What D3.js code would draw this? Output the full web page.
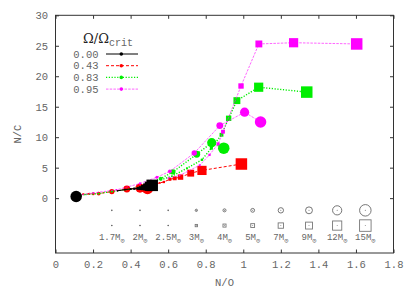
<!DOCTYPE html>
<html><head><meta charset="utf-8">
<script src="https://cdn.jsdelivr.net/npm/d3@7"></script>
<style>body{margin:0;background:#fff}svg{display:block}</style>
</head><body><svg id="c" width="411" height="291"></svg>
<script>
// ---- data ----
const masses = [1.7, 2, 2.5, 3, 4, 5, 7, 9, 12, 15];
const massLabels = ["1.7", "2", "2.5", "3", "4", "5", "7", "9", "12", "15"];
const rotationLabels = ["0.00", "0.43", "0.83", "0.95"];
const xTicks = [0, 0.2, 0.4, 0.6, 0.8, 1, 1.2, 1.4, 1.6, 1.8];
const yTicks = [0, 5, 10, 15, 20, 25, 30];

// Omega/Omega_crit = 0.00
const circ000NO = [0.11, 0.11, 0.11, 0.11, 0.11, 0.11, 0.11, 0.11, 0.11, 0.11];
const circ000NC = [0.27, 0.27, 0.27, 0.27, 0.27, 0.27, 0.27, 0.27, 0.27, 0.27];
const sq000NO = [0.33, 0.37, 0.40, 0.42, 0.44, 0.455, 0.47, 0.485, 0.50, 0.515];
const sq000NC = [1.2, 1.4, 1.5, 1.55, 1.6, 1.65, 1.75, 1.85, 1.95, 2.1];
// 0.43
const circ043NO = [0.115, 0.13, 0.147, 0.18, 0.20, 0.23, 0.30, 0.38, 0.45, 0.49];
const circ043NC = [0.35, 0.5, 0.65, 0.7, 0.72, 0.75, 1.08, 1.5, 1.65, 1.6];
const sq043NO = [0.51, 0.53, 0.555, 0.577, 0.609, 0.635, 0.666, 0.72, 0.78, 0.99];
const sq043NC = [2.1, 2.3, 2.5, 2.65, 3.1, 3.25, 3.45, 4.1, 4.55, 5.6];
// 0.83
const circ083NO = [0.12, 0.16, 0.23, 0.30, 0.45, 0.56, 0.625, 0.752, 0.832, 0.896];
const circ083NC = [0.4, 0.6, 0.75, 1.1, 1.7, 3.2, 4.3, 7.2, 9.1, 8.2];
const sq083NO = [0.56, 0.62, 0.70, 0.78, 0.83, 0.884, 0.922, 0.966, 1.082, 1.338];
const sq083NC = [3.0, 3.6, 4.9, 6.3, 8.2, 10.4, 13.1, 16.0, 18.2, 17.4];
// 0.95
const circ095NO = [0.12, 0.2, 0.325, 0.45, 0.54, 0.609, 0.739, 0.875, 1.007, 1.092];
const circ095NC = [0.45, 0.85, 1.36, 2.4, 3.44, 4.4, 7.4, 11.9, 14.1, 12.5];
const sq095NO = [0.60, 0.66, 0.768, 0.82, 0.866, 0.892, 0.988, 1.083, 1.268, 1.604];
const sq095NC = [3.3, 3.7, 5.4, 7.1, 8.9, 10.9, 18.4, 25.3, 25.5, 25.3];

// ---- styles ----
const colors = ["#000000", "#ff0000", "#00ee00", "#ff00ff"];
const dashes = [null, "3,2", "1.2,1.6", "2.5,1.2"];
const widths = [1, 1, 1.4, 1];
const opac = [1, 1, 1, 0.6];

const series = [
  {cx: circ000NO, cy: circ000NC, sx: sq000NO, sy: sq000NC},
  {cx: circ043NO, cy: circ043NC, sx: sq043NO, sy: sq043NC},
  {cx: circ083NO, cy: circ083NC, sx: sq083NO, sy: sq083NC},
  {cx: circ095NO, cy: circ095NC, sx: sq095NO, sy: sq095NC}
];

const svg = d3.select("#c");
const L = 55.5, R = 393.5, T = 15.3, B = 253;
const x = d3.scaleLinear().domain([0, 1.8]).range([L, R]);
const y = d3.scaleLinear().domain([-9, 30]).range([B, T]);
const size = d3.scaleLinear().domain([0, 15]).range([0, 11.5]);

const mono = "'Liberation Mono', 'DejaVu Sans Mono', monospace";
const txtCol = "#666";

function styleAxis(g) {
  g.select(".domain").remove();
  g.selectAll(".tick line").attr("stroke", "#333").attr("stroke-width", 1);
  g.selectAll("text").attr("font-family", mono).attr("font-size", 10.5).attr("fill", txtCol);
}
svg.append("g").attr("transform", `translate(0,${B})`)
  .call(d3.axisBottom(x).tickValues(xTicks).tickSize(-3.5).tickPadding(8).tickFormat(d => d3.format("")(+d.toFixed(1))))
  .call(styleAxis);
svg.append("g").attr("transform", `translate(0,${T})`)
  .call(d3.axisTop(x).tickValues(xTicks).tickSize(-3.5).tickFormat(""))
  .call(styleAxis);
svg.append("g").attr("transform", `translate(${L},0)`)
  .call(d3.axisLeft(y).tickValues(yTicks).tickSize(-3.5).tickPadding(7.5))
  .call(styleAxis);
svg.append("g").attr("transform", `translate(${R},0)`)
  .call(d3.axisRight(y).tickValues(yTicks).tickSize(-3.5).tickFormat(""))
  .call(styleAxis);

svg.append("rect").attr("x", L).attr("y", T).attr("width", R - L).attr("height", B - T)
  .attr("fill", "none").attr("stroke", "#333").attr("stroke-width", 1);

svg.append("text").attr("x", (L + R) / 2).attr("y", 286).attr("text-anchor", "middle")
  .attr("font-family", mono).attr("font-size", 10.5).attr("fill", txtCol).text("N/O");
svg.append("text").attr("transform", `translate(21,${(T + B) / 2}) rotate(-90)`).attr("text-anchor", "middle")
  .attr("font-family", mono).attr("font-size", 10.5).attr("fill", txtCol).text("N/C");

const line = d3.line().x(d => x(d[0])).y(d => y(d[1]));
const plot = svg.append("g");
const order = [1, 2, 3, 0];
order.forEach(si => {
  const s = series[si];
  const g = plot.append("g");
  const cPts = s.cx.map((v, i) => [v, s.cy[i], masses[i]]);
  const sPts = s.sx.map((v, i) => [v, s.sy[i], masses[i]]);
  [cPts, sPts].forEach(pts => {
    g.append("path").attr("d", line(pts)).attr("fill", "none")
      .attr("stroke", colors[si]).attr("stroke-width", widths[si]).attr("stroke-opacity", opac[si])
      .attr("stroke-dasharray", dashes[si]);
  });
  g.selectAll("circle.m").data(cPts).join("circle")
    .attr("cx", d => x(d[0])).attr("cy", d => y(d[1])).attr("r", d => size(d[2]) / 2)
    .attr("fill", colors[si]);
  g.selectAll("rect.m").data(sPts).join("rect")
    .attr("x", d => x(d[0]) - size(d[2]) / 2).attr("y", d => y(d[1]) - size(d[2]) / 2)
    .attr("width", d => size(d[2])).attr("height", d => size(d[2]))
    .attr("fill", colors[si]);
});

const lg = svg.append("g");
const tt = lg.append("text").attr("x", 83).attr("y", 43).attr("fill", "#222")
  .attr("font-family", "'DejaVu Serif', 'Liberation Serif', serif").attr("font-size", 13);
tt.append("tspan").text("Ω/Ω");
tt.append("tspan").attr("dy", 3).attr("font-size", 10).attr("font-family", mono).attr("fill", txtCol).text("crit");
rotationLabels.forEach((lab, i) => {
  const yy = 54 + i * 11.7;
  lg.append("text").attr("x", 98.5).attr("y", yy).attr("dy", "0.35em").attr("text-anchor", "end")
    .attr("font-family", mono).attr("font-size", 10.5).attr("fill", txtCol).text(lab);
  lg.append("line").attr("x1", 106).attr("x2", 138).attr("y1", yy).attr("y2", yy)
    .attr("stroke", colors[i]).attr("stroke-width", widths[i]).attr("stroke-opacity", opac[i])
    .attr("stroke-dasharray", dashes[i]);
  lg.append("circle").attr("cx", 121.3).attr("cy", yy).attr("r", 1.8).attr("fill", colors[i]);
});

const kg = svg.append("g");
masses.forEach((m, i) => {
  const kx = x(0.3 + 0.15 * i);
  const d = size(m);
  const cy1 = y(-2), cy2 = y(-4.5);
  if (d < 2.2) {
    kg.append("circle").attr("cx", kx).attr("cy", cy1).attr("r", 0.8).attr("fill", "#555");
    kg.append("circle").attr("cx", kx).attr("cy", cy2).attr("r", 0.8).attr("fill", "#555");
  } else {
    kg.append("circle").attr("cx", kx).attr("cy", cy1).attr("r", d / 2)
      .attr("fill", "none").attr("stroke", "#666").attr("stroke-width", 0.9);
    kg.append("rect").attr("x", kx - d / 2).attr("y", cy2 - d / 2).attr("width", d).attr("height", d)
      .attr("fill", "none").attr("stroke", "#777").attr("stroke-width", 0.9);
    kg.append("circle").attr("cx", kx).attr("cy", cy1).attr("r", 0.5).attr("fill", "#666");
    kg.append("circle").attr("cx", kx).attr("cy", cy2).attr("r", 0.5).attr("fill", "#888");
  }
  const t = kg.append("text").attr("x", kx).attr("y", y(-6.5) + 2.5).attr("text-anchor", "middle")
    .attr("font-family", mono).attr("font-size", 9).attr("fill", txtCol);
  t.append("tspan").text(massLabels[i] + "M");
  t.append("tspan").attr("dy", 2.5).attr("font-size", 7).text("⊙");
});
</script></body></html>
